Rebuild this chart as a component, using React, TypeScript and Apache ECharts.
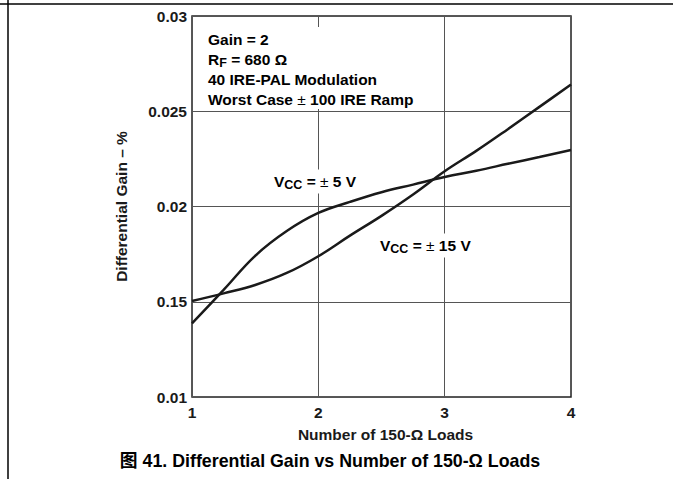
import React, { useEffect, useRef } from "react";
import * as echarts from "echarts";

const loads = [1, 1.25, 1.5, 1.75, 2, 2.25, 2.5, 2.75, 3, 3.25, 3.5, 3.75, 4];
const gainVcc5 = [0.01387, 0.01562, 0.01741, 0.01871, 0.01966, 0.02024, 0.02075, 0.02115, 0.02155, 0.02188, 0.02224, 0.0226, 0.02297];
const gainVcc15 = [0.01504, 0.01544, 0.01588, 0.01651, 0.01739, 0.01847, 0.01951, 0.02063, 0.02185, 0.02292, 0.02406, 0.02523, 0.0264];
const yTickValues = [0.01, 0.015, 0.02, 0.025, 0.03];
const yTickLabels = ["0.01", "0.15", "0.02", "0.025", "0.03"];
const xTickLabels = ["1", "2", "3", "4"];

const FONT = "'Liberation Sans', Arial, 'Noto Sans CJK SC', sans-serif";
const INK = "#1a1a1a";
const FS = 15.5;

export default function App() {
  const ref = useRef<HTMLDivElement>(null);
  useEffect(() => {
    document.body.style.margin = "0";
    const chart = echarts.init(ref.current!, null, { renderer: "svg" });
    const base = { fontFamily: FONT, fontWeight: "bold" as const, fontSize: FS, color: INK, lineHeight: 20 };
    const sub = { fontFamily: FONT, fontWeight: "bold" as const, fontSize: 12.5, color: INK, lineHeight: 10, verticalAlign: "bottom" as const };
    const pm = { fontFamily: FONT, fontWeight: "normal" as const, fontSize: FS, color: INK, lineHeight: 20 };
    const rich = { b: base, s: sub, p: pm };
    chart.setOption({
      animation: false,
      backgroundColor: "#fff",
      grid: { left: 192, top: 16, width: 379, height: 381, show: true, borderColor: "#222", borderWidth: 1.5, backgroundColor: "transparent" },
      xAxis: {
        type: "value", min: 1, max: 4, interval: 1,
        axisLine: { show: false }, axisTick: { show: false },
        splitLine: { show: true, lineStyle: { color: "#555", width: 1 } },
        axisLabel: { fontFamily: FONT, fontWeight: "bold", fontSize: FS, color: INK, margin: 8,
          formatter: (v: number) => xTickLabels[Math.round(v) - 1] ?? "" },
        name: "Number of 150-Ω Loads", nameLocation: "middle", nameGap: 30,
        nameTextStyle: { fontFamily: FONT, fontWeight: "bold", fontSize: FS, color: INK, padding: [0, 0, 0, 8] },
      },
      yAxis: {
        type: "value", min: 0.01, max: 0.03, interval: 0.005,
        axisLine: { show: false }, axisTick: { show: false },
        splitLine: { show: true, lineStyle: { color: "#555", width: 1 } },
        axisLabel: { fontFamily: FONT, fontWeight: "bold", fontSize: FS, color: INK, margin: 5,
          formatter: (v: number) => {
            const i = yTickValues.findIndex((t) => Math.abs(t - v) < 1e-6);
            return i >= 0 ? yTickLabels[i] : "";
          } },
        name: "Differential Gain – %", nameLocation: "middle", nameGap: 63, nameRotate: 90,
        nameTextStyle: { fontFamily: FONT, fontWeight: "bold", fontSize: FS, color: INK },
      },
      series: [
        { name: "VCC = ±5 V", type: "line", smooth: 0.4, showSymbol: false, data: loads.map((x, i) => [x, gainVcc5[i]]),
          lineStyle: { color: INK, width: 2.5 }, z: 3 },
        { name: "VCC = ±15 V", type: "line", smooth: 0.4, showSymbol: false, data: loads.map((x, i) => [x, gainVcc15[i]]),
          lineStyle: { color: INK, width: 2.5 }, z: 3 },
      ],
      graphic: [
        { type: "line", z: 10, shape: { x1: 0, y1: 4, x2: 673, y2: 4 }, style: { stroke: "#000", lineWidth: 1.5 } },
        { type: "line", z: 10, shape: { x1: 8, y1: 0, x2: 8, y2: 479 }, style: { stroke: "#000", lineWidth: 1.5 } },
        { type: "text", z: 10, x: 204, y: 27, style: {
            text: "{b|Gain = 2}\n{b|R}{s|F}{b| = 680 Ω}\n{b|40 IRE-PAL Modulation}\n{b|Worst Case }{p|±}{b| 100 IRE Ramp}",
            rich, backgroundColor: "#fff", padding: [2, 4, 0, 4], align: "left", verticalAlign: "top" } },
        { type: "text", z: 10, x: 272, y: 181.5, style: {
            text: "{b|V}{s|CC}{b| = }{p|±}{b| 5 V}", rich, backgroundColor: "#fff", padding: [2, 2], align: "left", verticalAlign: "middle" } },
        { type: "text", z: 10, x: 378, y: 245.5, style: {
            text: "{b|V}{s|CC}{b| = }{p|±}{b| 15 V}", rich, backgroundColor: "#fff", padding: [2, 2], align: "left", verticalAlign: "middle" } },
        { type: "text", z: 10, x: 330, y: 461, style: {
            text: "图 41. Differential Gain vs Number of 150-Ω Loads", fontFamily: FONT, fontWeight: "bold", fontSize: 17.8, fill: "#000",
            align: "center", verticalAlign: "middle" } },
      ],
    });
    return () => chart.dispose();
  }, []);
  return <div ref={ref} style={{ width: 673, height: 479 }} />;
}
